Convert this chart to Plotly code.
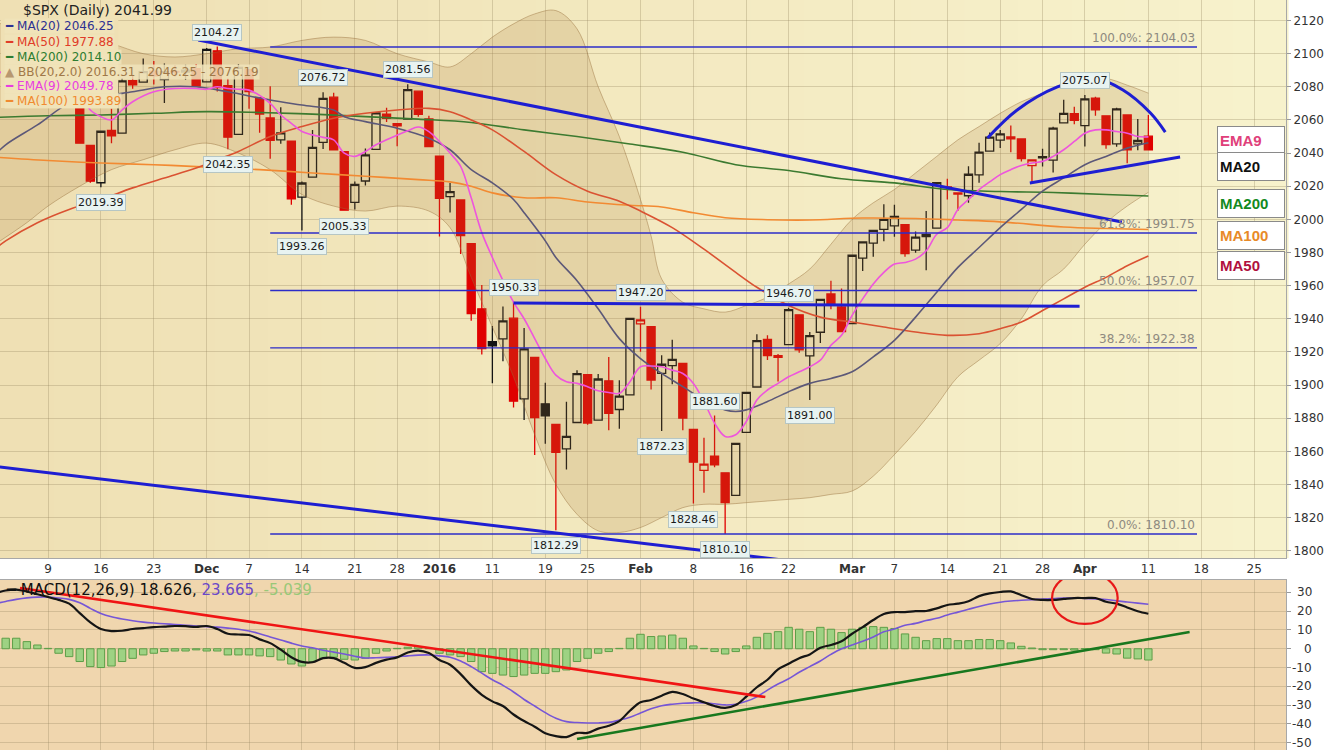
import plotly.graph_objects as go

# ---------------- price data (daily OHLC) ----------------
dates = ["2015-11-02","2015-11-03","2015-11-04","2015-11-05","2015-11-06",
 "2015-11-09","2015-11-10","2015-11-11","2015-11-12","2015-11-13",
 "2015-11-16","2015-11-17","2015-11-18","2015-11-19","2015-11-20",
 "2015-11-23","2015-11-24","2015-11-25","2015-11-27",
 "2015-11-30","2015-12-01","2015-12-02","2015-12-03","2015-12-04",
 "2015-12-07","2015-12-08","2015-12-09","2015-12-10","2015-12-11",
 "2015-12-14","2015-12-15","2015-12-16","2015-12-17","2015-12-18",
 "2015-12-21","2015-12-22","2015-12-23","2015-12-24",
 "2015-12-28","2015-12-29","2015-12-30","2015-12-31",
 "2016-01-04","2016-01-05","2016-01-06","2016-01-07","2016-01-08",
 "2016-01-11","2016-01-12","2016-01-13","2016-01-14","2016-01-15",
 "2016-01-19","2016-01-20","2016-01-21","2016-01-22",
 "2016-01-25","2016-01-26","2016-01-27","2016-01-28","2016-01-29",
 "2016-02-01","2016-02-02","2016-02-03","2016-02-04","2016-02-05",
 "2016-02-08","2016-02-09","2016-02-10","2016-02-11","2016-02-12",
 "2016-02-16","2016-02-17","2016-02-18","2016-02-19",
 "2016-02-22","2016-02-23","2016-02-24","2016-02-25","2016-02-26",
 "2016-02-29","2016-03-01","2016-03-02","2016-03-03","2016-03-04",
 "2016-03-07","2016-03-08","2016-03-09","2016-03-10","2016-03-11",
 "2016-03-14","2016-03-15","2016-03-16","2016-03-17","2016-03-18",
 "2016-03-21","2016-03-22","2016-03-23","2016-03-24",
 "2016-03-28","2016-03-29","2016-03-30","2016-03-31","2016-04-01",
 "2016-04-04","2016-04-05","2016-04-06","2016-04-07","2016-04-08",
 "2016-04-11"]
opens = [2080.76,2102.63,2110.60,2101.68,2098.60,
 2096.56,2077.19,2083.41,2072.29,2044.64,
 2022.08,2053.67,2051.99,2083.70,2082.82,
 2089.41,2084.42,2089.30,2088.82,
 2090.95,2082.93,2101.71,2080.71,2051.24,
 2090.42,2073.39,2061.17,2047.93,2047.27,
 2013.37,2025.55,2046.50,2073.76,2040.81,
 2010.27,2023.15,2042.20,2063.52,
 2057.77,2060.54,2077.34,2060.59,
 2038.20,2013.78,2011.71,1985.32,1945.97,
 1926.12,1927.83,1940.34,1891.68,1916.68,
 1888.66,1876.18,1861.46,1877.40,
 1906.28,1878.79,1902.52,1885.22,1894.00,
 1936.94,1935.26,1907.07,1911.67,1913.07,
 1873.25,1848.46,1857.10,1847.00,1833.40,
 1871.44,1898.80,1927.57,1916.74,
 1924.44,1942.38,1917.56,1931.87,1954.95,
 1947.13,1937.09,1976.60,1985.60,1994.01,
 1996.11,1996.88,1981.44,1990.97,1994.71,
 2019.27,2015.27,2014.24,2026.90,2041.16,
 2047.88,2048.64,2048.55,2032.48,
 2037.89,2035.75,2058.27,2063.77,2056.62,
 2073.19,2062.50,2045.56,2063.01,2045.54,
 2050.23]
highs = [2106.20,2116.48,2114.59,2108.78,2101.91,
 2096.56,2083.67,2086.94,2072.29,2044.64,
 2053.22,2066.69,2085.31,2086.74,2097.06,
 2095.61,2094.12,2093.00,2093.29,
 2093.81,2103.37,2104.27,2085.00,2093.84,
 2090.42,2073.85,2080.33,2067.65,2047.27,
 2022.92,2053.87,2076.72,2076.37,2040.81,
 2022.90,2042.74,2064.73,2067.36,
 2057.77,2081.56,2077.34,2062.54,
 2038.20,2021.94,2011.71,1985.32,1960.40,
 1935.65,1947.38,1950.33,1934.47,1916.68,
 1901.44,1876.18,1889.85,1908.85,
 1906.28,1906.73,1916.99,1902.96,1940.24,
 1947.20,1935.26,1918.01,1927.35,1913.07,
 1873.25,1868.25,1881.60,1847.00,1864.78,
 1895.77,1930.68,1930.00,1918.78,
 1946.70,1942.38,1932.08,1951.83,1962.96,
 1958.27,1978.35,1986.51,1993.69,2009.13,
 2008.76,1996.88,1992.69,2005.08,2022.37,
 2024.57,2015.94,2032.02,2046.24,2052.36,
 2053.91,2056.60,2048.55,2036.04,
 2042.67,2055.91,2072.21,2067.92,2075.07,
 2074.02,2062.50,2067.33,2063.01,2060.63,
 2062.93]
lows = [2080.76,2097.51,2096.98,2090.41,2083.74,
 2068.24,2069.91,2074.85,2045.66,2022.02,
 2019.39,2045.90,2051.99,2078.76,2082.82,
 2081.39,2070.29,2086.30,2084.13,
 2080.41,2082.93,2077.11,2042.35,2051.24,
 2066.78,2052.32,2036.53,2045.67,2008.80,
 1993.26,2025.55,2042.43,2041.66,2005.33,
 2005.93,2020.49,2042.20,2058.73,
 2044.20,2060.54,2061.97,2043.62,
 1989.68,2004.17,1979.05,1938.83,1918.46,
 1901.10,1914.35,1886.41,1878.93,1857.83,
 1864.60,1812.29,1848.98,1877.40,
 1875.97,1878.79,1872.70,1873.65,1894.00,
 1920.03,1897.29,1872.23,1900.52,1872.65,
 1828.46,1834.94,1850.32,1810.10,1833.40,
 1871.44,1898.80,1915.09,1902.17,
 1924.44,1919.44,1891.00,1925.41,1945.78,
 1931.81,1937.09,1968.80,1977.37,1986.77,
 1989.53,1977.43,1979.84,1969.25,1994.71,
 2012.05,2005.23,2010.04,2022.16,2041.16,
 2043.14,2040.57,2034.86,2022.49,
 2031.96,2028.31,2058.27,2057.46,2043.98,
 2062.57,2042.56,2043.78,2033.80,2041.69,
 2041.88]
closes = [2104.05,2109.79,2102.31,2099.93,2099.20,
 2078.58,2081.72,2075.00,2045.97,2023.04,
 2053.19,2050.44,2083.58,2081.24,2089.17,
 2086.59,2089.14,2088.87,2090.11,
 2080.41,2102.63,2079.51,2049.62,2091.69,
 2077.07,2063.59,2047.62,2052.23,2012.37,
 2021.94,2043.41,2073.07,2041.89,2005.55,
 2021.15,2038.97,2064.29,2060.99,
 2056.50,2078.36,2063.36,2043.94,
 2012.66,2016.71,1990.26,1943.09,1922.03,
 1923.67,1938.68,1890.28,1921.84,1880.33,
 1881.33,1859.33,1868.99,1906.90,
 1877.08,1903.63,1882.95,1893.36,1940.24,
 1939.38,1903.03,1912.53,1915.45,1880.05,
 1853.44,1852.21,1851.86,1829.08,1864.78,
 1895.58,1926.82,1917.83,1917.78,
 1945.50,1921.27,1929.80,1951.70,1948.05,
 1932.23,1978.35,1986.45,1993.40,1999.99,
 2001.76,1979.26,1989.26,1989.57,2022.19,
 2019.64,2015.93,2027.22,2040.59,2049.58,
 2051.60,2049.80,2036.71,2035.94,
 2037.05,2055.01,2063.95,2059.74,2072.78,
 2066.13,2045.17,2066.66,2041.91,2047.60,
 2041.99]
close_before_first = 2079.36

future_days = ["2016-04-12","2016-04-13","2016-04-14","2016-04-15",
 "2016-04-18","2016-04-19","2016-04-20","2016-04-21","2016-04-22",
 "2016-04-25","2016-04-26","2016-04-27","2016-04-28","2016-04-29"]

tick_dates = ["2015-11-09","2015-11-16","2015-11-23","2015-12-01","2015-12-07",
 "2015-12-14","2015-12-21","2015-12-28","2016-01-04","2016-01-11","2016-01-19",
 "2016-01-25","2016-02-01","2016-02-08","2016-02-16","2016-02-22","2016-03-01",
 "2016-03-07","2016-03-14","2016-03-21","2016-03-28","2016-04-01","2016-04-11",
 "2016-04-18","2016-04-25"]
tick_labels = ["9","16","23","<b>Dec</b>","7","14","21","28","<b>2016</b>","11","19",
 "25","<b>Feb</b>","8","16","22","<b>Mar</b>","7","14","21","28","<b>Apr</b>","11",
 "18","25"]

# ---------------- overlays (trading days after 2015-11-09) ----------------
ma20_days = [-5,-4,-1,2,5,8,11,14,17,21,24,27,28,30,33,36,38,40,42,44,45,47,48,50,52,54,56,
             58,60,62,64,65,66,68,70,72,74,76,78,80,82,84,86,88,90,92,94,96,98,100,102,104]
ma20_vals = [2039,2045,2057,2070,2074,2077,2080,2080,2077,2072,2069,2066,2062,2059,2055,2049,
             2042,2030,2022,2012,2004,1987,1977,1963,1946,1928,1916,1907,1899,1891,1885,1884,
             1885,1890,1896,1901,1904,1908,1917,1927,1941,1956,1971,1983,1995,2006,2017,2025,
             2033,2038,2043,2046.25]

ma50_days = [-5,-4,-1,2,5,8,11,14,16,18,21,24,27,30,33,36,38,40,42,45,48,51,54,56,59,62,65,
             67,70,73,76,79,82,85,88,90,92,94,96,98,100,102,104]
ma50_vals = [1982,1987,1998,2006,2012,2019,2025,2031,2036,2041,2050,2056,2061,2064,2066,2067,
             2065,2060,2054,2041,2027,2017,2011,2005,1995,1982,1968,1959,1948,1941,1938,1935,
             1932,1930,1931,1934,1938,1945,1952,1959,1965,1972,1977.88]

ma200_days = [-5,0,5,10,15,20,25,30,35,40,45,50,55,60,65,70,75,80,85,90,95,100,104]
ma200_vals = [2061.5,2062.5,2063,2064,2065,2064.5,2063.5,2062,2060.5,2058.5,2054,2050,2045.5,
              2040.5,2033,2029.5,2024.5,2022,2018,2016.8,2016.2,2015,2014.1]

ma100_days = [-5,0,5,10,15,20,25,30,35,38,40,42,45,48,51,55,58,61,64,68,72,77,82,86,90,96,100,104]
ma100_vals = [2037.5,2035.5,2034,2033,2031.5,2030,2028,2026,2024,2022.6,2020,2016,2013,2013,
              2010.5,2008.5,2007.5,2004,2001,1999.8,1999.6,2000.8,2000.5,1999.6,1998.5,1995.4,
              1994.5,1993.89]

ema9_days = [-5,-3,-1,1,3,4,5,6,7,8,10,12,14,15,16,17,18,19,21,22,23,24,25,26,27,28,29,30,31,
             32,34,35,36,37,38,39,40,41,42,43,44,45,46,47,48,49,50,51,52,53,54,55,56,57,58,59,
             60,61,62,63,64,65,66,67,68,69,70,71,72,73,74,75,76,77,78,79,80,81,82,83,84,85,86,
             87,88,89,90,91,92,93,94,95,96,97,98,99,100,101,102,103,104]
ema9_vals = [2086,2095,2098,2091,2078,2066,2062,2060,2066,2071,2077,2079,2079,2078.5,2080,2079,
             2078.5,2078,2070,2063,2058,2053,2051,2049.5,2048,2040,2038,2041,2045,2048,2053.5,
             2055.7,2053,2047,2040,2032,2013,1992,1977,1963,1950,1940,1928,1916,1906,1902,1901,
             1899,1896.5,1895.5,1895,1902,1911,1911.5,1911,1909,1907,1901,1890,1877,1869,1870,
             1878,1891,1897,1901,1905,1908,1911,1915,1924,1930,1942,1952,1961,1968,1973,1974,
             1976,1981,1991,1995,2006,2012,2018,2022.6,2027,2030,2032.5,2034,2035,2038,2042,
             2047,2052,2054,2054,2053,2052,2050,2049.78]

bb_upper_days = [-5,-2,0,3,6,9,12,15,18,21,24,27,30,33,36,38,40,42,44,46,48,50,52,54,56,57,58,
                 60,62,64,66,68,70,72,74,76,78,80,82,84,86,88,90,92,94,96,98,100,102,104]
bb_upper_vals = [2118,2118,2115,2110,2106,2100,2098,2100,2103,2104,2108,2110,2108,2100,2095,
                 2092,2100,2110,2118,2124,2126,2115,2080,2050,2012,1990,1964,1950,1946,1944,
                 1948,1953,1961,1970,1985,2000,2010,2018,2028,2038,2048,2056,2064,2071,2076,
                 2081,2084,2085,2081,2076.19]
bb_lower_days = [-5,-2,0,3,6,9,12,15,18,21,24,27,30,33,36,38,40,42,44,46,48,50,52,54,56,58,60,
                 62,64,66,68,70,72,74,76,78,80,82,84,86,88,90,92,94,96,98,100,102,104]
bb_lower_vals = [1985,1998,2008,2020,2030,2036,2042,2046,2040,2030,2015,2008,2005,2008,2005,
                 1995,1965,1935,1905,1870,1840,1822,1812,1811,1814,1820,1826,1828,1828,1829,
                 1830,1831,1832,1834,1836,1845,1858,1872,1888,1905,1915,1925,1940,1960,1970,
                 1985,1998,2008,2016.31]

# Fibonacci retracement levels
fib_levels = [2104.03, 1991.75, 1957.07, 1922.38, 1810.10]
fib_names = ["100.0%", "61.8%", "50.0%", "38.2%", "0.0%"]
fib_days = [21, 108.6]

# drawn trend lines (day, price)
down_line_days = [14.2, 101.5]; down_line_vals = [2108.2, 1998.4]
chan_line_days = [-5, 71.8];    chan_line_vals = [1850.9, 1792.6]
neck_line_days = [44, 97.5];    neck_line_vals = [1949.5, 1947.5]
arc_days = [88.8, 91.6, 95.4, 98.8, 101.6, 104.2, 105.6]
arc_vals = [2049.1, 2066.0, 2079.9, 2085.3, 2078.1, 2064.2, 2052.7]
support_days = [92.8, 107.0];   support_vals = [2022.0, 2037.6]

# price call-outs
callout_dates = ["2015-12-02","2015-12-16","2015-12-29","2015-12-03","2015-11-16","2015-12-14",
                 "2015-12-18","2016-01-13","2016-02-01","2016-02-22","2016-01-20","2016-02-03",
                 "2016-02-10","2016-02-08","2016-02-11","2016-02-24","2016-04-01"]
callout_vals = [2104.27,2076.72,2081.56,2042.35,2019.39,1993.26,2005.33,1950.33,1947.20,1946.70,
                1812.29,1872.23,1881.60,1828.46,1810.10,1891.00,2075.07]
callout_side = ["hi","hi","hi","lo","lo","lo","lo","hi","hi","hi","lo","lo","hi","lo","lo","lo","hi"]

# ---------------- MACD(12,26,9), one value per date ----------------
macd_vals = [29.5,31.0,31.5,30.5,29.0,27.6,26.0,24.0,19.0,14.0,
 10.5,9.4,9.6,10.5,11.0,11.5,11.8,12.1,12.0,11.6,
 12.1,10.5,8.0,7.6,7.3,5.0,3.0,-0.5,-4.5,-7.0,
 -7.2,-5.0,-5.0,-7.5,-10.2,-9.8,-7.5,-5.8,-4.6,-2.0,
 -1.0,-2.3,-6.0,-8.5,-13.5,-19.5,-24.5,-28.0,-30.5,-35.0,
 -38.5,-41.5,-45.0,-46.5,-47.0,-44.8,-44.8,-42.5,-41.0,-38.5,
 -33.0,-28.5,-27.3,-25.0,-23.0,-24.1,-26.5,-28.5,-30.5,-31.5,
 -30.0,-25.5,-20.5,-16.5,-11.0,-8.0,-5.0,-3.0,0.5,2.0,
 4.0,8.0,11.5,15.3,18.5,19.5,19.5,20.0,20.1,21.5,
 23.3,24.0,25.3,28.0,29.5,30.2,30.5,28.5,26.5,26.0,
 26.0,26.5,27.0,27.0,27.0,25.0,24.0,22.0,20.0,18.626]
signal_vals = [24.0,25.2,26.3,27.1,27.5,27.5,27.0,26.3,24.5,21.5,
 18.8,17.0,15.8,14.9,14.2,13.7,13.3,12.9,12.5,12.1,
 11.7,11.5,11.0,10.4,9.5,8.0,6.3,4.7,3.0,1.5,
 0.5,-0.8,-1.8,-2.8,-4.0,-4.9,-4.8,-4.6,-4.3,-3.8,
 -3.4,-3.3,-3.8,-4.5,-6.5,-9.5,-13.0,-16.5,-19.5,-23.0,
 -27.0,-30.5,-34.0,-37.0,-38.8,-39.3,-39.5,-39.5,-39.2,-38.0,
 -36.5,-34.2,-32.0,-30.3,-29.5,-29.0,-28.8,-28.8,-29.3,-29.9,
 -29.5,-28.0,-25.6,-22.0,-18.8,-16.0,-12.5,-9.5,-6.5,-3.0,
 0.0,2.0,4.0,6.3,9.0,10.5,12.5,13.5,15.0,16.2,
 18.0,19.5,21.0,22.5,23.8,24.8,25.4,25.8,26.1,26.5,
 26.7,27.0,27.0,26.8,26.5,26.2,25.5,24.9,24.3,23.665]
hist_vals = [6.0,5.6,5.6,3.8,2.0,0.2,-2.4,-4.2,-6.8,-9.5,
 -10.0,-9.2,-6.8,-5.1,-3.3,-2.4,-1.5,-1.2,-1.2,-0.6,
 -1.2,-1.2,-3.3,-3.3,-3.3,-3.8,-4.2,-6.0,-8.1,-9.2,
 -6.8,-5.1,-4.5,-5.6,-6.0,-5.1,-2.4,-1.2,0.2,0.8,
 1.1,0.2,-2.4,-3.3,-4.2,-6.8,-12.2,-13.1,-14.0,-14.8,
 -14.0,-13.1,-13.1,-12.2,-11.3,-6.8,-5.1,-2.4,-1.5,0.2,
 5.6,7.7,6.5,6.8,7.3,5.6,1.5,0.2,-1.5,-2.8,
 -1.5,1.5,6.1,8.2,9.1,11.4,10.4,9.1,11.4,10.4,
 8.6,10.4,11.4,11.8,11.4,10.8,7.9,6.1,4.3,5.4,
 5.4,4.3,4.3,4.9,4.9,4.3,3.1,1.3,0.4,-0.5,
 -0.5,-0.5,-0.7,0.0,-0.5,-2.3,-2.8,-5.0,-5.4,-6.0]
macd_red_days = [-2.65, 67.8];  macd_red_vals = [32.3, -25.7]
macd_green_days = [50.0, 107.9]; macd_green_vals = [-48.0, 8.9]
macd_circle_day = 98.0; macd_circle_val = 27.0
macd_ticks = [30, 20, 10, 0, -10, -20, -30, -40, -50]

# ---------------- geometry helpers ----------------
calendar = dates + future_days
origin = calendar.index("2015-11-09")
xs = [calendar.index(d) - origin for d in dates]
tick_x = [calendar.index(d) - origin for d in tick_dates]
prev = [close_before_first] + closes[:-1]

FONT = "DejaVu Sans"
W, H = 1326, 750
PLOT_R = 1286
XR = [-4.537, 117.01]
PRICE_R = [1795.6, 2132.4]
MACD_R = [-53.9, 36.6]
price_dom = [(H - 558) / H, 1.0]
macd_dom = [0.0, (H - 580) / H]
xdom = [0.0, 1.0]
BG_LEFT, BG_RIGHT = (239, 224, 180), (247, 242, 204)

fig = go.Figure()

def line(x, y, color, width, axes=("x", "y"), shape="linear", **kw):
    fig.add_trace(go.Scatter(x=x, y=y, mode="lines", xaxis=axes[0], yaxis=axes[1],
                             line=dict(color=color, width=width, shape=shape),
                             hoverinfo="skip", showlegend=False, **kw))

# Bollinger band
line(bb_lower_days, bb_lower_vals, "rgba(150,110,60,0.45)", 1, shape="spline")
line(bb_upper_days, bb_upper_vals, "rgba(150,110,60,0.45)", 1, shape="spline",
     fill="tonexty", fillcolor="rgba(170,120,60,0.19)")

# candles: black if close >= previous close, red otherwise; hollow if close > open
for want_up, col in ((True, "#141414"), (False, "#E00000")):
    ids = [i for i in range(len(dates)) if (closes[i] >= prev[i]) == want_up]
    fig.add_trace(go.Candlestick(
        x=[xs[i] for i in ids], open=[opens[i] for i in ids], high=[highs[i] for i in ids],
        low=[lows[i] for i in ids], close=[closes[i] for i in ids],
        increasing=dict(line=dict(color=col, width=1.3), fillcolor="rgba(0,0,0,0)"),
        decreasing=dict(line=dict(color=col, width=1.3), fillcolor=col),
        whiskerwidth=0, hoverinfo="none", showlegend=False, xaxis="x", yaxis="y"))

# moving averages
line(ma200_days, ma200_vals, "#3C7A30", 1.6, shape="spline")
line(ma100_days, ma100_vals, "#F28A32", 1.6, shape="spline")
line(ma50_days, ma50_vals, "#DA5232", 1.6, shape="spline")
line(ma20_days, ma20_vals, "#5C5878", 1.6, shape="spline")
line(ema9_days, ema9_vals, "#EE55DD", 1.6, shape="spline")

# fibonacci lines
for lv in fib_levels:
    line(fib_days, [lv, lv], "#2C2CC8", 1.3)

# drawn trend lines
TL = "#1E1ED2"
line(down_line_days, down_line_vals, TL, 3)
line(chan_line_days, chan_line_vals, TL, 3)
line(neck_line_days, neck_line_vals, TL, 3)
line(arc_days, arc_vals, TL, 3, shape="spline")
line(support_days, support_vals, TL, 3)

# MACD panel
fig.add_trace(go.Bar(x=xs, y=hist_vals, xaxis="x2", yaxis="y2",
                     marker=dict(color="#9ED283", line=dict(color="#5E9E48", width=1)),
                     hoverinfo="skip", showlegend=False))
line(xs, signal_vals, "#7656D6", 1.6, axes=("x2", "y2"), shape="spline")
line(xs, macd_vals, "#151515", 2.2, axes=("x2", "y2"), shape="spline")
line(macd_red_days, macd_red_vals, "#F01414", 2.6, axes=("x2", "y2"))
line(macd_green_days, macd_green_vals, "#18781E", 2.6, axes=("x2", "y2"))

shapes = []
# panel backgrounds (horizontal gradient for price panel)
N = 24
for k in range(N):
    t = k / (N - 1)
    col = "rgb(%d,%d,%d)" % tuple(round(a + (b - a) * t) for a, b in zip(BG_LEFT, BG_RIGHT))
    shapes.append(dict(type="rect", xref="x domain", yref="y domain", x0=k / N, x1=(k + 1) / N + 0.002,
                       y0=0, y1=1, fillcolor=col, line=dict(width=0), layer="below"))
shapes.append(dict(type="rect", xref="x2 domain", yref="y2 domain", x0=0, x1=1, y0=0, y1=1,
                   fillcolor="#F0D6AE", line=dict(width=0), layer="below"))
# legend backdrop (hides marks behind the legend block, as in the source chart)
shapes.append(dict(type="rect", xref="paper", yref="paper", x0=1 / W, x1=122 / W,
                   y0=1 - 108 / H, y1=1 - 18 / H, fillcolor="rgb(%d,%d,%d)" % BG_LEFT,
                   line=dict(width=0), layer="above"))
# red ellipse on MACD
shapes.append(dict(type="circle", xref="x2", yref="y2",
                   x0=macd_circle_day - 3.1, x1=macd_circle_day + 3.1,
                   y0=macd_circle_val - 13.8, y1=macd_circle_val + 13.8,
                   line=dict(color="#E81818", width=2.2)))

ann = []
# legend rows (price panel)
ann.append(dict(xref="paper", yref="paper", x=22 / W, y=1 - 10 / H, xanchor="left", yanchor="middle",
                text="$SPX (Daily) 2041.99", showarrow=False,
                font=dict(family=FONT, size=14, color="#222")))
rows = [
    ('<span style="color:#2E3192">━</span> MA(20) 2046.25', 26.5, "#2E3192"),
    ('<span style="color:#E03C28">━</span> MA(50) 1977.88', 41.5, "#E03C28"),
    ('<span style="color:#2E7D32">━</span> MA(200) 2014.10', 56.5, "#2E7D32"),
    ('<span style="color:#B89870">▲</span> BB(20,2.0) 2016.31 - 2046.25 - 2076.19', 71.5, "#A07848"),
    ('<span style="color:#E83EE0">━</span> EMA(9) 2049.78', 86.5, "#E83EE0"),
    ('<span style="color:#F08A30">━</span> MA(100) 1993.89', 101.5, "#F08A30"),
]
for txt, ypx, col in rows:
    ann.append(dict(xref="paper", yref="paper", x=4 / W, y=1 - ypx / H,
                    xanchor="left", yanchor="middle", text=txt, showarrow=False,
                    font=dict(family=FONT, size=12, color=col),
                    bgcolor="rgba(240,227,186,0.85)", borderpad=0))
# MACD legend
ann.append(dict(xref="paper", yref="paper", x=4 / W, y=1 - 590 / H, xanchor="left", yanchor="middle",
                showarrow=False, font=dict(family=FONT, size=15, color="#111"),
                text='━ MACD(12,26,9) 18.626, <span style="color:#6A48C8">23.665</span>'
                     '<span style="color:#98C878">, -5.039</span>'))
# MACD axis labels (right aligned)
for v in macd_ticks:
    ann.append(dict(xref="paper", yref="y2", x=(1314 - PLOT_R) / (W - PLOT_R) * 0 + 1314 / PLOT_R,
                    y=v, xanchor="right", yanchor="middle",
                    text=str(v), showarrow=False, font=dict(family=FONT, size=12, color="#333")))
# fib labels
for lv, nm in zip(fib_levels, fib_names):
    ann.append(dict(xref="x", yref="y", x=fib_days[1], y=lv, xanchor="right", yanchor="bottom",
                    text="%s: %.2f" % (nm, lv), showarrow=False,
                    font=dict(family=FONT, size=12, color="#8E8A80")))
# price call-outs
for d, v, s in zip(callout_dates, callout_vals, callout_side):
    ann.append(dict(xref="x", yref="y", x=calendar.index(d) - origin, y=v,
                    xanchor="center", yanchor="bottom" if s == "hi" else "top",
                    yshift=6 if s == "hi" else -7, text="%.2f" % v, showarrow=False,
                    font=dict(family=FONT, size=11, color="#1A1A1A"),
                    bgcolor="#E8F3F1", bordercolor="#B6C6C4", borderwidth=1, borderpad=1))
# right-hand tags
tags = [("EMA9", ema9_vals[-1], -4, "#E0407A"), ("MA20", ma20_vals[-1], -24, "#111111"),
        ("MA200", ma200_vals[-1], -7, "#138A1E"), ("MA100", ma100_vals[-1], -6, "#E88A28"),
        ("MA50", ma50_vals[-1], -9, "#B0103E")]
for name, v, dy, col in tags:
    ann.append(dict(xref="x domain", yref="y", x=0.999, y=v, yshift=dy, xanchor="right",
                    yanchor="middle", text="<b>%s</b>" % name, showarrow=False, align="left",
                    width=62, height=23, font=dict(family="Liberation Sans", size=15, color=col),
                    bgcolor="#FFFFFF", bordercolor="#8A8A8A", borderwidth=1, borderpad=2))

GRID = "rgba(150,135,95,0.32)"
fig.update_layout(
    template="none", autosize=False,
    width=W, height=H, margin=dict(l=0, r=W - PLOT_R, t=0, b=0, pad=0, autoexpand=False),
    paper_bgcolor="#FFFFFF", plot_bgcolor="rgba(0,0,0,0)",
    showlegend=False, boxgap=0.24, boxgroupgap=0, bargap=0.3,
    shapes=shapes, annotations=ann,
    font=dict(family=FONT, size=12, color="#333"),
    xaxis=dict(domain=xdom, anchor="y", range=XR, tickmode="array", tickvals=tick_x,
               ticktext=tick_labels, ticks="", tickfont=dict(family=FONT, size=12, color="#333"),
               showgrid=True, gridcolor=GRID, zeroline=False, showline=True, automargin=False,
               linecolor="#A8A8A8", mirror=True, rangeslider=dict(visible=False), fixedrange=True),
    yaxis=dict(domain=price_dom, anchor="x", range=PRICE_R, side="right", tick0=1800, dtick=20,
               ticks="outside", ticklen=4, tickcolor="#999", automargin=False,
               tickfont=dict(family=FONT, size=12, color="#333"),
               showgrid=True, gridcolor=GRID, zeroline=False, showline=True, linecolor="#A8A8A8",
               mirror=True, fixedrange=True),
    xaxis2=dict(domain=xdom, anchor="y2", range=XR, matches="x", tickmode="array", tickvals=tick_x,
                showticklabels=False, ticks="", showgrid=True, gridcolor=GRID, zeroline=False,
                showline=True, linecolor="#A8A8A8", mirror=True, fixedrange=True, automargin=False),
    yaxis2=dict(domain=macd_dom, anchor="x2", range=MACD_R, side="right", tick0=0, dtick=10,
                showticklabels=False, ticks="outside", ticklen=4, tickcolor="#999",
                showgrid=True, gridcolor=GRID, zeroline=False, showline=True, automargin=False,
                linecolor="#A8A8A8", mirror=True, fixedrange=True),
)

fig.write_html(
    "out.html",
    config={"displayModeBar": False, "responsive": False},
    post_script=("document.body.style.margin='0px';document.body.style.overflow='hidden';"
                 "var gd=document.getElementById('{plot_id}');"
                 "Plotly.relayout(gd,{width:%d,height:%d});" % (W, H)))
